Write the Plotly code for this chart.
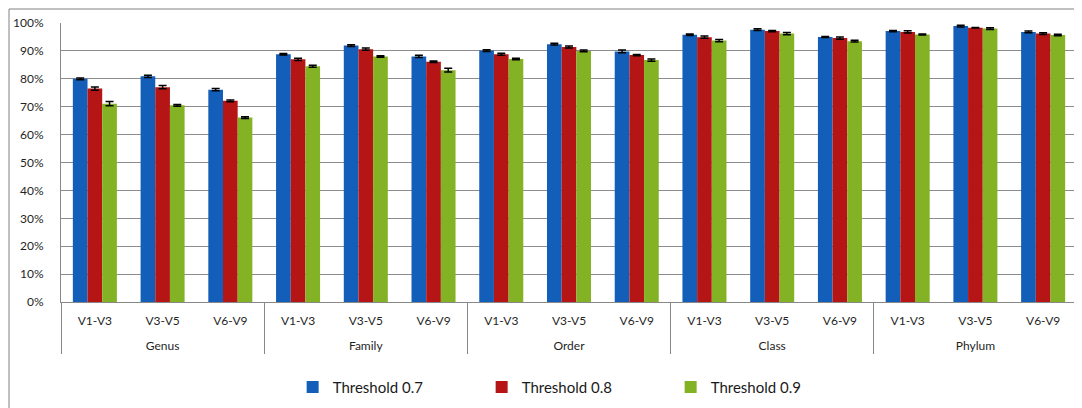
import plotly.graph_objects as go

groups = ["Genus", "Family", "Order", "Class", "Phylum"]
regions = ["V1-V3", "V3-V5", "V6-V9"]
series_names = ["Threshold 0.7", "Threshold 0.8", "Threshold 0.9"]

t07 = [80.0, 80.9, 76.1, 88.8, 91.9, 88.0, 90.1, 92.4, 89.8, 95.8, 97.6, 95.0, 97.1, 98.9, 96.8]
t08 = [76.5, 77.0, 72.1, 87.0, 90.6, 86.1, 88.8, 91.4, 88.5, 94.9, 97.1, 94.6, 96.8, 98.3, 96.2]
t09 = [71.1, 70.5, 66.1, 84.5, 88.0, 83.1, 87.1, 90.0, 86.7, 93.7, 96.2, 93.5, 95.9, 98.0, 95.7]

e07 = [0.3, 0.4, 0.4, 0.3, 0.3, 0.4, 0.3, 0.3, 0.5, 0.3, 0.3, 0.2, 0.2, 0.3, 0.3]
e08 = [0.6, 0.6, 0.3, 0.4, 0.4, 0.3, 0.4, 0.4, 0.2, 0.4, 0.2, 0.4, 0.4, 0.1, 0.3]
e09 = [0.8, 0.3, 0.3, 0.4, 0.3, 0.7, 0.3, 0.3, 0.4, 0.4, 0.4, 0.3, 0.2, 0.3, 0.3]

colors = ["#125EB8", "#B61515", "#84B225"]

# inner labels get a small blank second line to space the group row like the original
spacer = "<br><span style='font-size:14px'> </span>"
x_outer = [g for g in groups for _ in regions]
x_inner = [r + spacer for _ in groups for r in regions]

fig = go.Figure()
for name, vals, errs, col in zip(series_names, [t07, t08, t09], [e07, e08, e09], colors):
    fig.add_trace(go.Bar(
        x=[x_outer, x_inner],
        y=[v / 100 for v in vals],
        name=name,
        marker=dict(color=col, line=dict(width=0)),
        error_y=dict(type="data", array=[e / 100 for e in errs], color="black",
                     thickness=1.5, width=4),
    ))

# page body adds an 8px offset; figure sized to fit the 1082x408 window
W, H = 1074, 400
L, R, T, B = 53, 5, 15, 106
pw, ph = W - L - R, H - T - B

font_family = "Lato, 'Open Sans', sans-serif"
fig.update_layout(
    width=W, height=H,
    margin=dict(l=L, r=R, t=T, b=B, autoexpand=False),
    paper_bgcolor="white", plot_bgcolor="white",
    barmode="group", bargap=0.35, bargroupgap=0,
    font=dict(family=font_family, size=12, color="#1f1f1f"),
    showlegend=True,
    legend=dict(orientation="h", x=0.228, xanchor="left", y=-0.306, yanchor="middle",
                font=dict(size=15, color="#1a1a1a"), entrywidth=144, entrywidthmode="pixels",
                itemwidth=30, traceorder="normal"),
    xaxis=dict(type="multicategory", showline=True, linecolor="#888888", linewidth=1,
               showdividers=True, dividercolor="#888888", dividerwidth=1,
               ticks="", tickfont=dict(size=12), showgrid=False, automargin=False,
               ticklabelstandoff=8),
    yaxis=dict(range=[0, 1], tickformat=".0%", dtick=0.1, showgrid=True,
               gridcolor="#8c8c8c", gridwidth=1, showline=True, linecolor="#888888",
               linewidth=1, ticks="", ticklabelstandoff=14, tickfont=dict(size=12),
               zeroline=False, automargin=False),
    shapes=[dict(type="rect", xref="paper", yref="paper",
                 x0=(1 - L) / pw, x1=(W + 20 - L) / pw,
                 y0=-(B + 20) / ph, y1=(H - 1 - B) / ph,
                 line=dict(color="#808080", width=1), fillcolor="rgba(0,0,0,0)",
                 layer="below")],
)

fig.write_html("out.html")
